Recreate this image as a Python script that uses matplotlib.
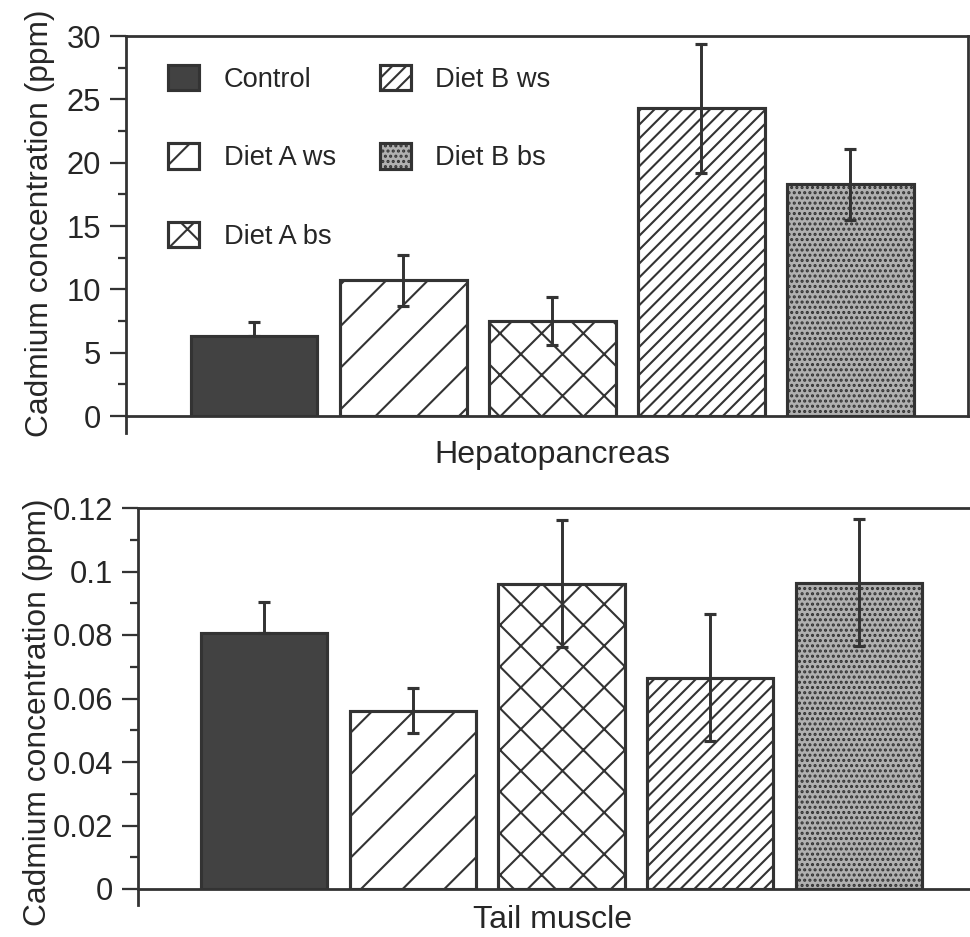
import matplotlib
matplotlib.use("Agg")
import matplotlib.pyplot as plt
from matplotlib.patches import Patch
from matplotlib.ticker import MultipleLocator, FuncFormatter

# groups, same order in both panels
groups = ["Control", "Diet A ws", "Diet A bs", "Diet B ws", "Diet B bs"]

# hepatopancreas (ppm)
hep_mean = [6.3, 10.7, 7.5, 24.3, 18.3]
hep_err = [1.1, 2.0, 1.9, 5.1, 2.8]

# tail muscle (ppm)
tail_mean = [0.0805, 0.0562, 0.0962, 0.0665, 0.0965]
tail_err = [0.0098, 0.0070, 0.0200, 0.0200, 0.0200]

INK = "#333333"
TXT = "#262626"
styles = [
    dict(facecolor="#424242", hatch=None),
    dict(facecolor="white", hatch="/"),
    dict(facecolor="white", hatch="x"),
    dict(facecolor="white", hatch="///"),
    dict(facecolor="#b0b0b0", hatch="...."),
]

plt.rcParams["font.family"] = ["Liberation Sans", "DejaVu Sans"]
plt.rcParams["hatch.linewidth"] = 1.2

DPI = 125
fig = plt.figure(figsize=(970 / DPI, 937 / DPI), dpi=DPI)

W, H = 970.0, 937.0


def px_axes(left, top, right, bottom):
    return fig.add_axes([left / W, 1 - bottom / H, (right - left) / W, (bottom - top) / H])


def draw_panel(ax, means, errs, xlim, ylim, major, minor, spine_low):
    x = list(range(len(means)))
    for i, (m, st) in enumerate(zip(means, styles)):
        ax.bar(x[i], m, width=0.85, facecolor=st["facecolor"], hatch=st["hatch"],
               edgecolor=INK, linewidth=1.8, zorder=2)
    lower = [0 if g == "Control" else e for g, e in zip(groups, errs)]
    ax.errorbar(x, means, yerr=[lower, errs], fmt="none", ecolor=INK,
                elinewidth=1.7, capsize=3.3, capthick=1.8, zorder=3)
    ax.set_xlim(*xlim)
    ax.set_ylim(*ylim)
    ax.set_xticks([])
    ax.yaxis.set_major_locator(MultipleLocator(major))
    ax.yaxis.set_minor_locator(MultipleLocator(minor))
    ax.tick_params(axis="y", which="major", direction="out", length=9.2, width=1.3,
                   color=INK, labelsize=17.8, labelcolor=TXT, pad=5)
    ax.tick_params(axis="y", which="minor", direction="out", length=4.6, width=1.3, color=INK)
    for s in ax.spines.values():
        s.set_color(INK)
        s.set_linewidth(1.6)
    ax.spines["left"].set_bounds(spine_low, ylim[1])


# top panel: hepatopancreas
ax1 = px_axes(126, 36, 968, 416)
draw_panel(ax1, hep_mean, hep_err, (-0.86, 4.79), (0, 30), 5, 2.5, -1.35)

handles = [Patch(facecolor=st["facecolor"], hatch=st["hatch"], edgecolor=INK, linewidth=1.8,
                 label=g) for g, st in zip(groups, styles)]
ax1.legend(handles=handles, ncol=2, loc="upper left", bbox_to_anchor=(168 / W, 1 - 65 / H),
           bbox_transform=fig.transFigure, frameon=False, fontsize=15.7, borderpad=0,
           borderaxespad=0, handlelength=1.15, handleheight=1.05, labelspacing=1.85,
           handletextpad=0.9, columnspacing=1.6, labelcolor=TXT)

fig.text(552 / W, 1 - 455 / H, "Hepatopancreas", ha="center", va="center",
         fontsize=18.5, color=TXT)
fig.text(40 / W, 1 - 223 / H, "Cadmium concentration (ppm)", rotation=90,
         ha="center", va="center", fontsize=18.3, color=TXT)

# bottom panel: tail muscle
ax2 = px_axes(138, 508, 985, 889)
draw_panel(ax2, tail_mean, tail_err, (-0.85, 4.85), (0, 0.12), 0.02, 0.01, -0.005)
ax2.yaxis.set_major_formatter(FuncFormatter(lambda v, p: "%g" % round(v, 3)))

fig.text(553 / W, 1 - 920 / H, "Tail muscle", ha="center", va="center",
         fontsize=18.5, color=TXT)
fig.text(38 / W, 1 - 712 / H, "Cadmium concentration (ppm)", rotation=90,
         ha="center", va="center", fontsize=18.3, color=TXT)

fig.savefig("out.png", dpi=DPI)
